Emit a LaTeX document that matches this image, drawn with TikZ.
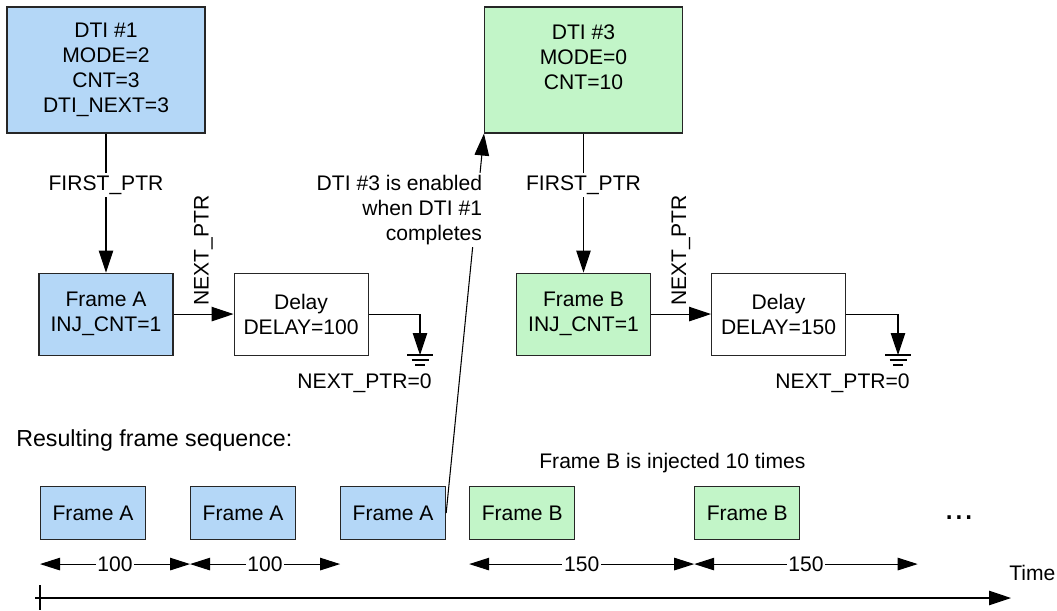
\documentclass[tikz,border=0pt]{standalone}
\usepackage{fontspec}
\setmainfont{Liberation Sans}
\usetikzlibrary{arrows.meta, positioning}

\definecolor{dtiblue}{HTML}{B4D7F7}
\definecolor{dtigreen}{HTML}{C2F5C8}

\tikzset{
  box/.style={draw=black!85, line width=0.6pt, align=center, inner sep=0pt},
  dtibox/.style={box, minimum width=3.96cm, minimum height=2.52cm},
  framebox/.style={box, minimum width=2.68cm, minimum height=1.64cm},
  seqbox/.style={box, minimum width=2.10cm, minimum height=1.06cm},
  arr/.style={-{Triangle[length=0.44cm, width=0.29cm]}, draw=black, line width=0.6pt},
  dimarr/.style={{Triangle[length=0.40cm, width=0.25cm]}-{Triangle[length=0.40cm, width=0.25cm]}, draw=black, line width=0.6pt},
  lbl/.style={fill=white, inner sep=1.5pt}
}

\begin{document}
\begin{tikzpicture}[font=\fontsize{12}{14.2}\selectfont]
    \useasboundingbox (0,0) rectangle (21.14,-12.2);

    % DTI #1 chain
    \node[dtibox, fill=dtiblue] (dti1) at (2.12,-1.40) {DTI \#1\\MODE=2\\CNT=3\\DTI\_NEXT=3};
    \node[framebox, fill=dtiblue, below=2.78cm of dti1] (fra) {Frame A\\INJ\_CNT=1};
    \node[framebox, right=1.2cm of fra] (dla) {Delay\\DELAY=100};
    \coordinate (gnda) at (8.40,-7.10);
    \draw[arr] (dti1) -- node[lbl, pos=0.37] {FIRST\_PTR} (fra);
    \draw[arr] (fra) -- node[midway, rotate=90, anchor=west, inner sep=4.5pt] {NEXT\_PTR} (dla);
    \draw[arr] (dla.east) -| (gnda);
    \node[anchor=east, inner sep=0pt] (nxa) at (8.64,-7.66) {NEXT\_PTR=0};

    % DTI #3 chain
    \node[dtibox, fill=dtigreen] (dti3) at (11.67,-1.40) {DTI \#3\\MODE=0\\CNT=10\\\mbox{}};
    \node[framebox, fill=dtigreen, below=2.78cm of dti3] (frb) {Frame B\\INJ\_CNT=1};
    \node[framebox, right=1.2cm of frb] (dlb) {Delay\\DELAY=150};
    \coordinate (gndb) at (17.96,-7.10);
    \draw[arr] (dti3) -- node[lbl, pos=0.37] {FIRST\_PTR} (frb);
    \draw[arr] (frb) -- node[midway, rotate=90, anchor=west, inner sep=4.5pt] {NEXT\_PTR} (dlb);
    \draw[arr] (dlb.east) -| (gndb);
    \node[anchor=east, inner sep=0pt] (nxb) at (18.20,-7.66) {NEXT\_PTR=0};

    % ground symbols
    \foreach \g in {gnda,gndb} {
      \draw[black, line width=0.6pt]
        ([xshift=-0.26cm]\g) -- ([xshift=0.26cm]\g)
        ([xshift=-0.17cm, yshift=-0.1cm]\g) -- ([xshift=0.17cm, yshift=-0.1cm]\g)
        ([xshift=-0.10cm, yshift=-0.2cm]\g) -- ([xshift=0.10cm, yshift=-0.2cm]\g);
    }

    % resulting sequence
    \node[anchor=west, inner sep=0pt, font=\fontsize{13.2}{15}\selectfont] (restitle) at (0.32,-8.80) {Resulting frame sequence:};
    \node[seqbox, fill=dtiblue, anchor=north west] (fa1) at (0.80,-9.72) {Frame A};
    \node[seqbox, fill=dtiblue, right=0.88cm of fa1] (fa2) {Frame A};
    \node[seqbox, fill=dtiblue, right=0.88cm of fa2] (fa3) {Frame A};
    \node[seqbox, fill=dtigreen, right=0.46cm of fa3] (fb1) {Frame B};
    \node[seqbox, fill=dtigreen, right=2.38cm of fb1] (fb2) {Frame B};
    \node[anchor=west, inner sep=0pt] (injtxt) at (10.78,-9.26) {Frame B is injected 10 times};
    \node[anchor=base, font=\fontsize{20}{24}\selectfont] (dots) at (19.18,-10.38) {...};

    \draw[arr] (fa3.east) -- (dti3.south west);
    \node[lbl, align=right, anchor=east] (enable) at (9.70,-4.20) {DTI \#3 is enabled\\when DTI \#1\\completes};

    % spacing
    \coordinate (dimend) at ([xshift=4.47cm, yshift=-0.48cm]fb2.south west);
    \draw[dimarr] ([yshift=-0.48cm]fa1.south west) -- node[lbl, inner sep=1pt] {100} ([yshift=-0.48cm]fa2.south west);
    \draw[dimarr] ([yshift=-0.48cm]fa2.south west) -- node[lbl, inner sep=1pt] {100} ([yshift=-0.48cm]fa3.south west);
    \draw[dimarr] ([yshift=-0.48cm]fb1.south west) -- node[lbl, inner sep=1pt] {150} ([yshift=-0.48cm]fb2.south west);
    \draw[dimarr] ([yshift=-0.48cm]fb2.south west) -- node[lbl, inner sep=1pt] {150} (dimend);

    % time axis
    \coordinate (t0) at (0.70,-11.96);
    \coordinate (t1) at (20.22,-11.96);
    \draw[arr] (t0) -- (t1);
    \draw[black, line width=0.6pt] (0.80,-11.70) -- (0.80,-12.2);
    \node[anchor=west, inner sep=0pt] (timelbl) at (20.18,-11.46) {Time};
\end{tikzpicture}
\end{document}
